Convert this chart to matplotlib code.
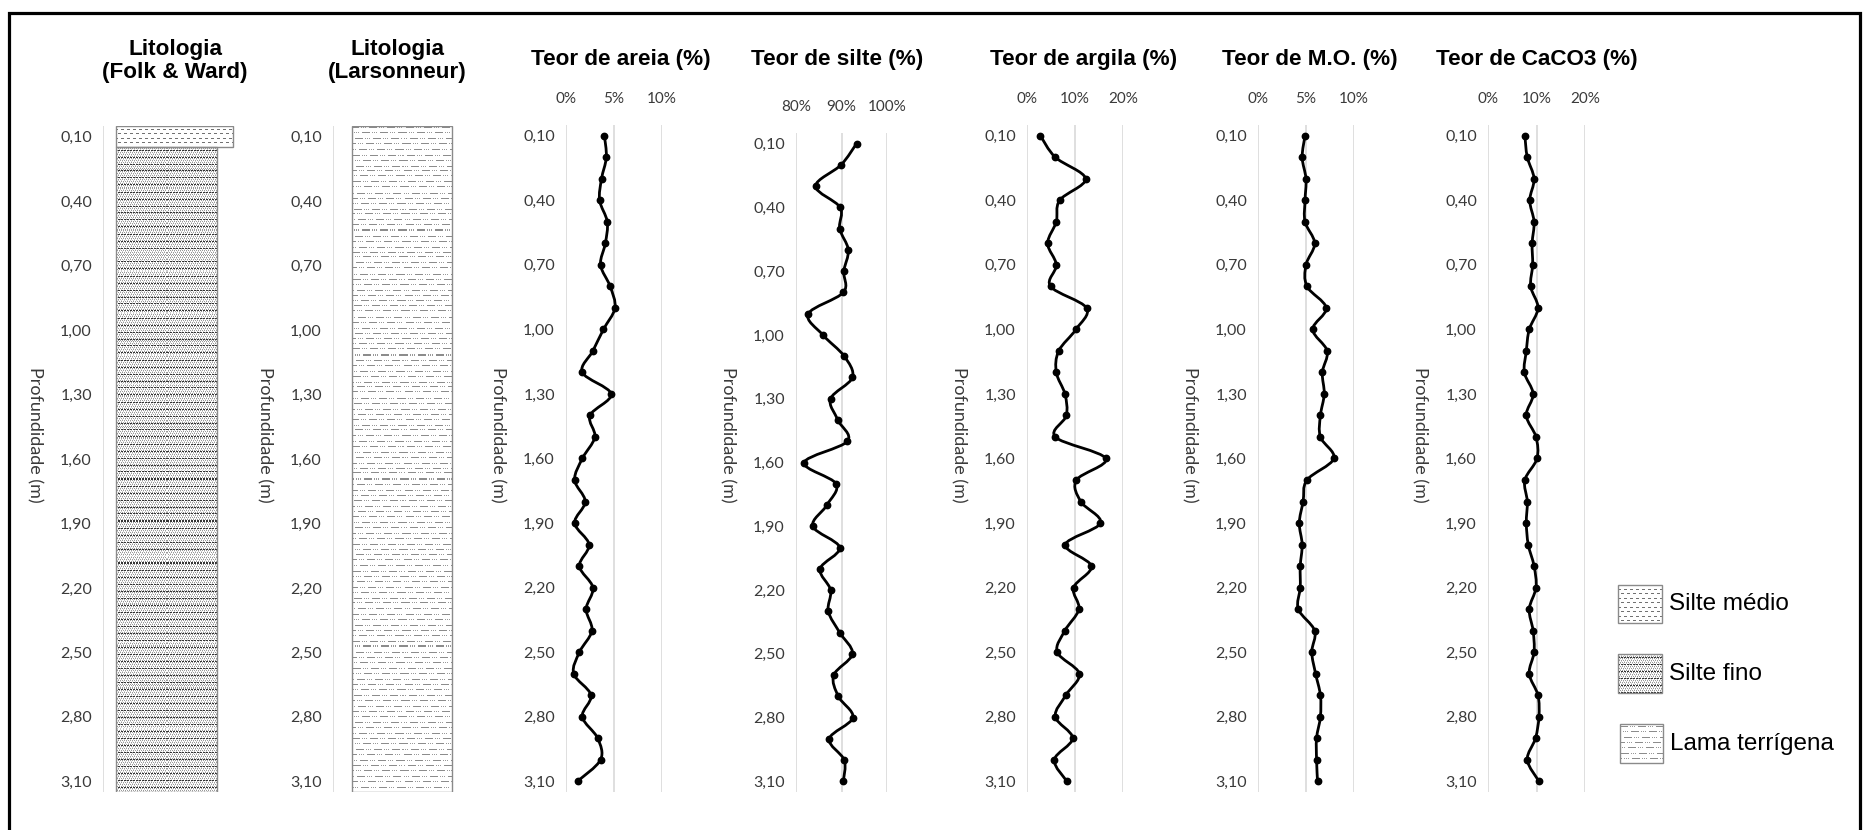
import numpy as np
import matplotlib
matplotlib.use("Agg")
import matplotlib.pyplot as plt
from matplotlib.patches import Rectangle, PathPatch
from matplotlib.path import Path

# ---------------- data ----------------
depths = [0.10, 0.20, 0.30, 0.40, 0.50, 0.60, 0.70, 0.80, 0.90, 1.00,
          1.10, 1.20, 1.30, 1.40, 1.50, 1.60, 1.70, 1.80, 1.90, 2.00,
          2.10, 2.20, 2.30, 2.40, 2.50, 2.60, 2.70, 2.80, 2.90, 3.00, 3.10]

litho_folk = ["Silte médio", "Silte fino", "Silte fino", "Silte fino", "Silte fino",
              "Silte fino", "Silte fino", "Silte fino", "Silte fino", "Silte fino",
              "Silte fino", "Silte fino", "Silte fino", "Silte fino", "Silte fino",
              "Silte fino", "Silte fino", "Silte fino", "Silte fino", "Silte fino",
              "Silte fino", "Silte fino", "Silte fino", "Silte fino", "Silte fino",
              "Silte fino", "Silte fino", "Silte fino", "Silte fino", "Silte fino",
              "Silte fino"]
litho_lars = ["Lama terrígena"] * 31

areia = [4.0, 4.2, 3.7, 3.5, 4.3, 4.1, 3.6, 4.6, 5.1, 3.9, 2.8, 1.7, 4.7, 2.5, 3.0, 1.7,
         0.9, 2.0, 0.9, 2.4, 1.4, 2.8, 2.1, 2.7, 1.4, 0.8, 2.6, 1.7, 3.3, 3.6, 1.2]
silte = [93.3, 89.9, 84.3, 89.7, 89.6, 91.5, 90.5, 90.4, 82.7, 85.9, 90.6, 92.4, 87.6,
         89.2, 91.3, 81.8, 88.8, 86.8, 83.7, 89.6, 85.3, 87.6, 87.1, 89.6, 92.4, 88.3,
         89.3, 92.5, 87.3, 90.6, 90.4]
argila = [2.8, 5.9, 12.2, 6.8, 6.1, 4.3, 6.1, 4.9, 12.4, 10.2, 6.6, 6.1, 7.9, 8.2, 5.9,
          16.4, 10.3, 11.2, 15.3, 8.0, 13.4, 9.7, 10.8, 7.9, 6.3, 10.9, 8.1, 5.9, 9.5,
          5.7, 8.3]
mo = [4.9, 4.6, 5.0, 4.9, 4.9, 5.9, 5.0, 5.1, 7.1, 5.7, 7.2, 6.7, 6.9, 6.5, 6.5, 7.9,
      5.1, 4.7, 4.3, 4.6, 4.4, 4.4, 4.2, 5.9, 5.6, 6.0, 6.5, 6.5, 6.1, 6.1, 6.2]
caco3 = [7.6, 8.1, 9.5, 8.6, 9.5, 9.1, 9.2, 8.8, 10.3, 8.5, 7.9, 7.5, 9.3, 7.9, 9.9,
         10.1, 7.6, 8.1, 7.9, 8.3, 9.5, 9.9, 8.5, 9.3, 9.5, 8.5, 10.3, 10.5, 9.8, 8.1,
         10.5]

titles = ["Litologia\n(Folk & Ward)", "Litologia\n(Larsonneur)", "Teor de areia (%)",
          "Teor de silte (%)", "Teor de argila (%)", "Teor de M.O. (%)", "Teor de CaCO3 (%)"]
ylabel = "Profundidade (m)"
legend_labels = ["Silte médio", "Silte fino", "Lama terrígena"]

# ---------------- styling / layout ----------------
W, H = 1863, 830
fig = plt.figure(figsize=(W / 100, H / 100), dpi=100)
TICK_FONT = ["Lato", "DejaVu Sans"]
TITLE_FONT = ["Liberation Sans", "DejaVu Sans"]
TICK_COLOR = "#3a3a3a"
GRID_COLOR = "#d9d9d9"


def add_ax(left, top, right, bottom):
    return fig.add_axes([left / W, 1 - bottom / H, (right - left) / W, (bottom - top) / H])


def texture(kind, h, w):
    ii, jj = np.mgrid[0:h, 0:w]
    img = np.ones((h, w))
    if kind == "Silte fino":
        img[(ii % 2 == 0) & ((jj + (ii // 2)) % 2 == 0)] = 0.6
        img[(ii % 2 == 1) & ((jj + (ii // 2)) % 3 == 0)] = 0.8
        line = (ii % 7 == 3) & (jj % 3 != 2)
        img[line] = 0.2
    elif kind == "Silte médio":
        rowA = (ii % 9 == 4) & (jj % 6 < 3)
        rowB = (ii % 9 == 8) & ((jj + 3) % 6 < 3)
        img[rowA | rowB] = 0.45
    elif kind == "Lama terrígena":
        period = 18
        ys = []
        y = 2
        k = 0
        steps = [5, 6, 5, 5, 6]
        while y < h:
            ys.append(y)
            y += steps[k % 5]
            k += 1
        for r, y in enumerate(ys):
            off = (r * 7) % period
            pos = (np.arange(w) + off) % period
            dash = pos < 8
            dots = (pos == 10) | (pos == 12) | (pos == 14)
            row = img[y]
            row[dash] = 0.55
            row[dots] = 0.6
    return np.dstack([img, img, img])


def px_size(ax):
    bb = ax.get_window_extent()
    return int(round(bb.height)), int(round(bb.width))


def style_y(ax):
    ax.set_ylim(len(depths) - 0.5, -0.5)
    ticks = list(range(0, len(depths), 3))
    ax.set_yticks(ticks)
    ax.set_yticklabels([f"{depths[t]:.2f}".replace(".", ",") for t in ticks],
                       fontfamily=TICK_FONT, fontsize=11.5, color=TICK_COLOR)
    ax.tick_params(axis="y", length=0, pad=8)
    for s in ax.spines.values():
        s.set_visible(False)
    ax.set_facecolor("none")


def ylabel_at(ax):
    bb = ax.get_position()
    x = bb.x0 * W - 68
    fig.text(x / W, 1 - 435 / H, ylabel, rotation=270, ha="center", va="center",
             fontfamily=TICK_FONT, fontsize=13, color=TICK_COLOR)


def litho_panel(left, classes, bar_left, widths):
    ax = add_ax(left, 126, left + 140, 792)
    xmax = 1.4
    ax.set_xlim(0, xmax)
    style_y(ax)
    ax.set_xticks([])
    ax.axvline(0, color=GRID_COLOR, lw=1.2, zorder=0)
    h, w = px_size(ax)
    ypos = np.arange(len(classes))
    bw = [widths[c] for c in classes]
    bars = ax.barh(ypos, bw, left=bar_left, height=1.0, color="white", edgecolor="none", zorder=1)
    tex_cache = {}
    for c, b in zip(classes, bars):
        if c not in tex_cache:
            tex_cache[c] = texture(c, h, w)
        im = ax.imshow(tex_cache[c], extent=(0, xmax, len(classes) - 0.5, -0.5),
                       interpolation="nearest", aspect="auto", zorder=2)
        im.set_clip_path(b)
    start = 0
    for i in range(1, len(classes) + 1):
        if i == len(classes) or classes[i] != classes[start]:
            ax.add_patch(Rectangle((bar_left, start - 0.5), widths[classes[start]], i - start,
                                   fill=False, ec="#8a8a8a", lw=1.0, zorder=3))
            start = i
    ax.set_xlim(0, xmax)
    ax.set_ylim(len(classes) - 0.5, -0.5)
    ylabel_at(ax)
    return ax


def smooth_path(xs, ys):
    pts = np.column_stack([xs, ys]).astype(float)
    n = len(pts)
    verts = [pts[0]]
    codes = [Path.MOVETO]
    for i in range(n - 1):
        p0 = pts[i - 1] if i > 0 else pts[i]
        p1 = pts[i]
        p2 = pts[i + 1]
        p3 = pts[i + 2] if i + 2 < n else pts[i + 1]
        c1 = p1 + (p2 - p0) / 6.0
        c2 = p2 - (p3 - p1) / 6.0
        verts += [c1, c2, p2]
        codes += [Path.CURVE4] * 3
    return Path(verts, codes)


def curve_panel(left, right, top, values, xlim, xticks):
    ax = add_ax(left, top, right, 792)
    ax.set_xlim(*xlim)
    style_y(ax)
    ax.xaxis.tick_top()
    ax.set_xticks(xticks)
    ax.set_xticklabels([f"{t}%" for t in xticks], fontfamily=TICK_FONT, fontsize=11,
                       color=TICK_COLOR)
    ax.tick_params(axis="x", length=0, pad=14)
    for t in xticks:
        ax.axvline(t, color=GRID_COLOR, lw=1.2, zorder=0)
    ypos = np.arange(len(values))
    ax.add_patch(PathPatch(smooth_path(values, ypos), fill=False, ec="black", lw=2.0,
                           zorder=3, capstyle="round", joinstyle="round"))
    ax.plot(values, ypos, ls="none", marker="o", ms=4.6, color="black", zorder=4)
    ax.set_xlim(*xlim)
    ylabel_at(ax)
    return ax


litho_panel(103, litho_folk, 0.13, {"Silte médio": 1.17, "Silte fino": 1.01})
litho_panel(333, litho_lars, 0.19, {"Lama terrígena": 1.0})
curve_panel(566, 662, 125, areia, (0, 10), [0, 5, 10])
curve_panel(796, 887, 133, silte, (80, 100), [80, 90, 100])
curve_panel(1027, 1123, 125, argila, (0, 20), [0, 10, 20])
curve_panel(1258, 1354, 125, mo, (0, 10), [0, 5, 10])
curve_panel(1488, 1585, 125, caco3, (0, 20), [0, 10, 20])

# titles
title_pos = [(175, 61), (397, 61), (621, 60), (837, 60), (1084, 60), (1310, 60), (1537, 60)]
for t, (x, y) in zip(titles, title_pos):
    fig.text(x / W, 1 - y / H, t, ha="center", va="center", fontfamily=TITLE_FONT,
             fontweight="bold", fontsize=16.2, linespacing=1.15, color="black")

# legend
lax = add_ax(1600, 570, 1860, 780)
lax.set_xlim(1600, 1860)
lax.set_ylim(780, 570)
lax.axis("off")
leg_boxes = [(1618, 585, 44, 38), (1618, 654, 44, 39), (1620, 724, 43, 39)]
for lab, (x, y, w, h) in zip(legend_labels, leg_boxes):
    lax.imshow(texture(lab, h, w), extent=(x, x + w, y + h, y), interpolation="nearest",
               aspect="auto", zorder=1)
    lax.add_patch(Rectangle((x, y), w, h, fill=False, ec="#8a8a8a", lw=1.0, zorder=2))
    lax.text(x + w + 7, y + h / 2, lab, ha="left", va="center", fontfamily=TITLE_FONT,
             fontsize=17.5, color="black")
lax.set_xlim(1600, 1860)
lax.set_ylim(780, 570)

# outer frame (bottom edge lies just beyond the image, as in the original crop)
fig.patches.append(Rectangle((8.5 / W, 1 - 834 / H), (1860 - 8.5) / W, (834 - 13.5) / H,
                             transform=fig.transFigure, fill=False, ec="black", lw=2.3))

fig.savefig("out.png", dpi=100, facecolor="white")
